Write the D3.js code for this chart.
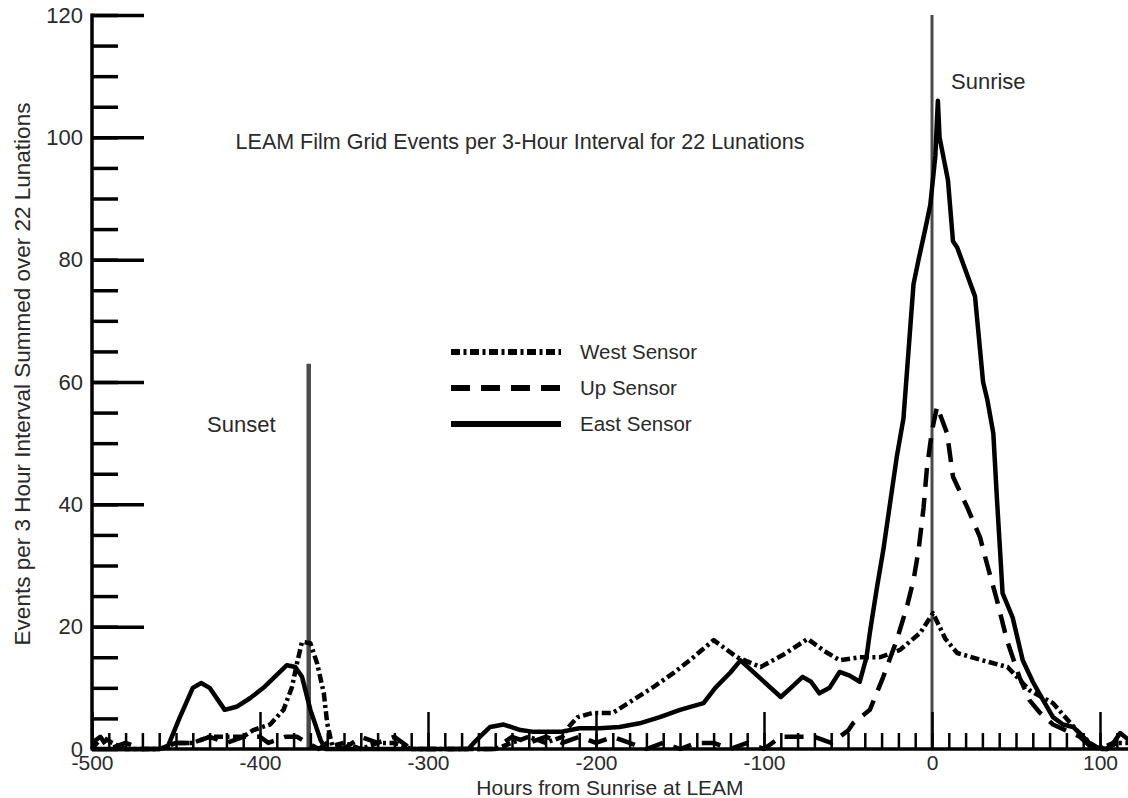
<!DOCTYPE html>
<html>
<head>
<meta charset="utf-8">
<script src="https://cdn.jsdelivr.net/npm/d3@7"></script>
<style>
  body { margin: 0; background: #fff; }
  svg { display: block; }
  text { font-family: "Liberation Sans", Arial, Helvetica, sans-serif; fill: #2a2a2a; }
  .axis text { font-size: 22px; }
  .axis .domain { display: none; }
</style>
</head>
<body>
<div id="chart"></div>
<script>
var w = 1128;
var h = 798;

// series (hours from sunrise, events)
var eastHours = [-500, -490, -480, -470, -460, -455, -448, -440, -435, -430, -421, -414, -406, -398, -390, -384, -379, -375, -370, -364, -361, -330, -300, -276, -271, -263, -255, -245, -237, -221, -210, -198, -186, -174, -162, -150, -136, -129, -120, -114, -102, -90, -84, -77, -72, -67, -61, -55, -49, -43, -39, -37, -33, -29, -21, -17, -14, -11, -8, -4, -1, 2, 3.5, 4.5, 9.5, 12.5, 15, 25.6, 30.4, 33, 36.5, 38.7, 40.5, 42, 48, 54, 60, 64, 72, 78, 84, 90, 96, 104, 108, 112, 117];
var eastEvents = [0, 0, 0, 0, 0, 0.3, 5, 10, 10.8, 10, 6.4, 6.9, 8.3, 10, 12.1, 13.7, 13.4, 11.8, 6.4, 1.5, 0, 0, 0, 0, 1.5, 3.6, 4, 3.1, 2.8, 2.8, 3.4, 3.4, 3.6, 4.2, 5.2, 6.4, 7.5, 10, 12.5, 14.5, 11.5, 8.5, 10, 11.8, 11, 9.1, 10, 12.6, 12, 11, 15, 19, 26, 32.5, 47.7, 54, 65, 76, 80, 85, 89, 97, 106, 100, 93, 83, 82, 74, 60, 57, 51.6, 40.7, 32.5, 25.5, 21.5, 14.5, 11, 9, 5.2, 4, 3.6, 2, 0.3, 0, 1, 2.6, 1.5];

var upHours = [-500, -495, -490, -480, -470, -460, -450, -440, -430, -420, -410, -400, -395, -385, -378, -372, -365, -360, -350, -340, -330, -320, -310, -300, -280, -260, -250, -240, -230, -220, -210, -200, -190, -180, -170, -160, -150, -140, -130, -120, -110, -100, -90, -80, -70, -60, -50, -47, -37, -29, -21, -15, -11, -8, -5, -3, 0, 3, 9, 12.5, 21, 28.6, 32.6, 38.7, 44.6, 52, 58, 64, 72, 80, 88, 96, 104, 110, 117];
var upEvents = [1, 2, 0, 1, 0, 0, 1, 1, 2, 1, 2, 2, 1, 2, 2, 1, 0, 1, 0, 2, 1, 2, 0, 0, 0, 0, 2, 1, 2, 1, 2, 1, 2, 1, 0, 1, 0, 1, 1, 0, 1, 0, 2, 2, 2, 1, 3, 4.2, 6.4, 11.8, 17.8, 23.2, 27.6, 32.5, 39.5, 46, 52, 56, 51.6, 44.5, 39.5, 34.6, 30.4, 24.3, 17.8, 11.8, 8, 6, 4, 3, 2, 0, 0, 1, 1];

var westHours = [-500, -494, -488, -480, -470, -460, -450, -440, -430, -420, -410, -404, -394, -386, -381, -378, -375, -370, -366, -362, -360, -357, -350, -340, -330, -320, -310, -300, -280, -260, -250, -240, -230, -220, -217, -211, -202, -190, -178, -166, -154, -142, -130, -116, -102, -88, -74, -64, -55, -43, -31, -19, -7, 0.6, 8, 15, 30, 45, 58, 72, 86, 94, 100, 108, 117];
var westEvents = [0, 2, 1, 0, 0, 0, 1, 1, 2, 2, 2, 3.1, 4, 6.4, 10.1, 14, 17.5, 17.3, 14, 9.1, 4.2, 0.5, 1, 0, 1, 1, 0, 0, 0, 0, 1, 2, 1, 2, 3.4, 5.2, 5.9, 5.9, 8, 10.1, 12.4, 15, 17.8, 15, 13.4, 15.5, 18, 16, 14.5, 15, 15, 16.2, 19, 22.2, 18, 15.7, 14.5, 13.4, 9.6, 7.5, 3.1, 1, 0, 1, 1];

var seriesNames = ['West Sensor', 'Up Sensor', 'East Sensor'];
var seriesDash = ['9,3.5,3,3.5', '19,11', null];

var xMajorTicks = [-500, -400, -300, -200, -100, 0, 100];
var yMajorTicks = [0, 20, 40, 60, 80, 100, 120];
var sunsetHour = -371;
var sunsetTop = 63;
var sunriseHour = 0;

var svg = d3.select('#chart')
  .append('svg')
    .attr('width', w)
    .attr('height', h);

// scales
var x = d3.scaleLinear()
  .domain([-500, 100])
  .range([92, 1100]);

var y = d3.scaleLinear()
  .domain([0, 120])
  .range([749, 15]);

// sunrise / sunset markers
svg.append('line')
  .attr('x1', x(sunriseHour)).attr('x2', x(sunriseHour))
  .attr('y1', y(120)).attr('y2', y(0))
  .attr('stroke', '#4a4a4a')
  .attr('stroke-width', 3);

svg.append('line')
  .attr('x1', x(sunsetHour)).attr('x2', x(sunsetHour))
  .attr('y1', y(sunsetTop)).attr('y2', y(0))
  .attr('stroke', '#4a4a4a')
  .attr('stroke-width', 4.5);

// curves
var line = d3.line()
  .x(function(d) { return x(d[0]); })
  .y(function(d) { return y(d[1]); });

var series = [
  d3.zip(westHours, westEvents),
  d3.zip(upHours, upEvents),
  d3.zip(eastHours, eastEvents)
];

svg.selectAll('.sensor')
  .data(series)
  .enter()
  .append('path')
    .attr('class', 'sensor')
    .attr('d', line)
    .attr('fill', 'none')
    .attr('stroke', '#000')
    .attr('stroke-width', 4.5)
    .attr('stroke-linejoin', 'round')
    .attr('stroke-dasharray', function(d, i) { return seriesDash[i]; });

// x axis: minor ticks every 10 hours, tall ones every 100 with labels
svg.append('g')
  .attr('class', 'axis')
  .attr('transform', 'translate(0,' + y(0) + ')')
  .call(d3.axisBottom(x).tickValues(d3.range(-500, 111, 10)).tickSizeInner(-16).tickSizeOuter(0).tickFormat(''))
  .selectAll('line').attr('stroke', '#000').attr('stroke-width', 2.5);

svg.append('g')
  .attr('class', 'axis')
  .attr('transform', 'translate(0,' + y(0) + ')')
  .call(d3.axisBottom(x).tickValues(xMajorTicks).tickSizeInner(-37).tickSizeOuter(0).tickPadding(6).tickFormat(String))
  .call(function(g) {
    g.selectAll('line').attr('stroke', '#000').attr('stroke-width', 2.5);
    g.selectAll('text').attr('fill', '#2a2a2a').attr('dy', '0.72em').style('font-size', '21px');
  });

svg.append('line')
  .attr('x1', x(-500) - 1.5).attr('x2', w)
  .attr('y1', y(0)).attr('y2', y(0))
  .attr('stroke', '#000')
  .attr('stroke-width', 3.5);

// y axis: minor every 5, major every 20
svg.append('g')
  .attr('class', 'axis')
  .attr('transform', 'translate(' + x(-500) + ',0)')
  .call(d3.axisLeft(y).tickValues(d3.range(0, 121, 5)).tickSizeInner(-26).tickSizeOuter(0).tickFormat(''))
  .selectAll('line').attr('stroke', '#000').attr('stroke-width', 3.5);

svg.append('g')
  .attr('class', 'axis')
  .attr('transform', 'translate(' + x(-500) + ',0)')
  .call(d3.axisLeft(y).tickValues(yMajorTicks).tickSizeInner(-52).tickSizeOuter(0).tickPadding(9).tickFormat(String))
  .call(function(g) {
    g.selectAll('line').attr('stroke', '#000').attr('stroke-width', 3.5);
    g.selectAll('text').attr('fill', '#2a2a2a');
  });

svg.append('line')
  .attr('x1', x(-500)).attr('x2', x(-500))
  .attr('y1', y(120) - 1.5).attr('y2', y(0))
  .attr('stroke', '#000')
  .attr('stroke-width', 3.5);

// axis titles
svg.append('text')
  .attr('x', 610)
  .attr('y', 795)
  .attr('text-anchor', 'middle')
  .style('font-size', '21px')
  .text('Hours from Sunrise at LEAM');

svg.append('text')
  .attr('transform', 'translate(30,374) rotate(-90)')
  .attr('text-anchor', 'middle')
  .style('font-size', '22.5px')
  .text('Events per 3 Hour Interval Summed over 22 Lunations');

// annotations
svg.append('text')
  .attr('x', 520)
  .attr('y', 149)
  .attr('text-anchor', 'middle')
  .style('font-size', '21.5px')
  .text('LEAM Film Grid Events per 3-Hour Interval for 22 Lunations');

svg.append('text')
  .attr('x', 207)
  .attr('y', 432)
  .style('font-size', '22px')
  .text('Sunset');

svg.append('text')
  .attr('x', 951)
  .attr('y', 89)
  .style('font-size', '22px')
  .text('Sunrise');

// legend
var legend = svg.selectAll('.legend-item')
  .data(seriesNames)
  .enter()
  .append('g')
    .attr('class', 'legend-item')
    .attr('transform', function(d, i) {
      return 'translate(451,' + (352 + i * 36) + ')';
    });

legend.append('line')
  .attr('x1', 0).attr('x2', 110)
  .attr('stroke', '#000')
  .attr('stroke-width', 6)
  .attr('stroke-dasharray', function(d, i) { return seriesDash[i]; });

legend.append('text')
  .attr('x', 129)
  .attr('y', 7)
  .style('font-size', '20.5px')
  .text(function(d) { return d; });
</script>
</body>
</html>
